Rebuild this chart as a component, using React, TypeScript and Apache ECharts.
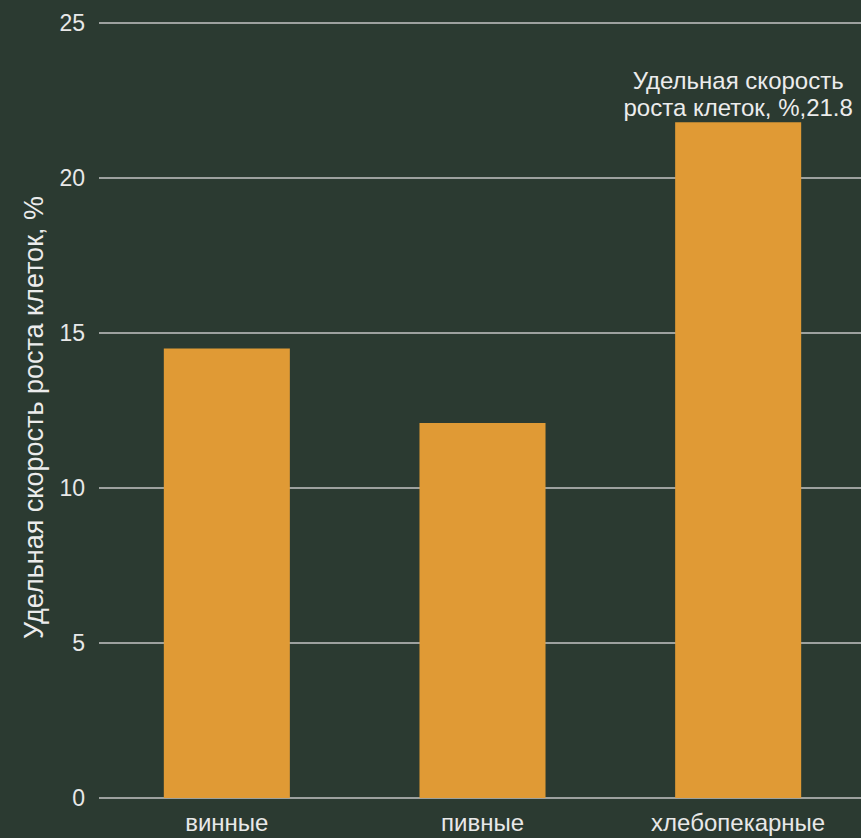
import React, { useEffect, useRef } from "react";
import * as echarts from "echarts";

const categories = ["винные", "пивные", "хлебопекарные"];
const values = [14.5, 12.1, 21.8];
const seriesName = "Удельная скорость роста клеток, %";
const labelledIndex = [2];

export default function App() {
  const ref = useRef<HTMLDivElement>(null);
  useEffect(() => {
    document.body.style.margin = "0";
    const chart = echarts.init(ref.current!, null, { renderer: "svg" });
    const font = "Liberation Sans, Arial, sans-serif";
    chart.setOption({
      animation: false,
      backgroundColor: "#2b3a31",
      grid: { left: 99, width: 767, top: 23, bottom: 40, containLabel: false, outerBoundsMode: "none" },
      xAxis: {
        type: "category",
        data: categories,
        axisLine: { show: false },
        axisTick: { show: false },
        axisLabel: { color: "#e8e8e8", fontSize: 24, fontFamily: font, margin: 12 },
      },
      yAxis: {
        type: "value",
        min: 0,
        max: 25,
        interval: 5,
        name: seriesName,
        nameLocation: "middle",
        nameGap: 52,
        nameTextStyle: { color: "#ececec", fontSize: 27, fontFamily: font, padding: [0, 14, 0, 0] },
        axisLine: { show: false },
        axisTick: { show: false },
        axisLabel: { color: "#e8e8e8", fontSize: 23, fontFamily: font, margin: 14 },
        splitLine: { lineStyle: { color: "#c4c4c4", width: 1.5 } },
      },
      series: [
        {
          type: "bar",
          name: seriesName,
          barWidth: "49.3%",
          data: values.map((v, i) => ({
            value: v,
            label: {
              show: labelledIndex.includes(i),
              position: "top",
              distance: 1,
              formatter: "Удельная скорость\nроста клеток, %,{c}",
              color: "#ececec",
              fontSize: 24,
              lineHeight: 27,
              fontFamily: font,
            },
          })),
          itemStyle: { color: "#e09a35" },
        },
      ],
    });
    return () => chart.dispose();
  }, []);
  return <div ref={ref} style={{ width: 861, height: 838 }} />;
}
